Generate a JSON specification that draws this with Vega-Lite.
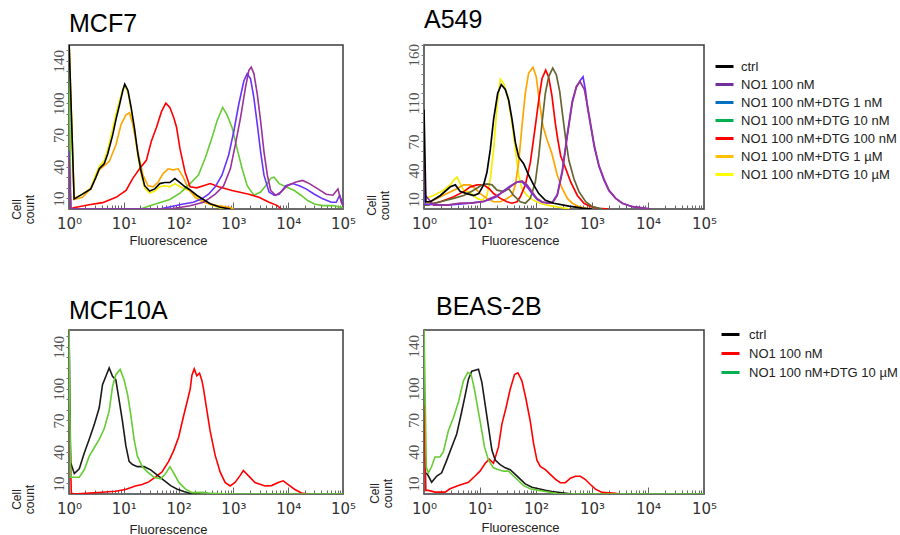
{
"$schema": "https://vega.github.io/schema/vega-lite/v6.json",
"background": "white",
"padding": {"left": 9, "top": 7, "right": 2, "bottom": 2},
"config": {"view": {"stroke": "#3c3c3c", "strokeWidth": 1.5}, "font": "Liberation Sans"},
"bounds": "flush",
"columns": 2,
"spacing": {"row": 121, "column": 81},
"resolve": {"scale": {"x": "independent", "y": "independent", "stroke": "independent", "color": "independent"}, "legend": {"color": "independent"}},
"concat": [
{
"width": 274, "height": 164,
"title": {"text": "MCF7", "anchor": "start", "frame": "group", "baseline": "alphabetic", "offset": -12, "fontSize": 25, "font": "Liberation Sans", "fontWeight": "normal", "color": "#000000"},
"data": {"values": [
{"s":"NO1 100 nM+DTG 10 µM","x":1,"y":160},{"s":"NO1 100 nM+DTG 10 µM","x":1.24,"y":10},{"s":"NO1 100 nM+DTG 10 µM","x":1.76,"y":14},{"s":"NO1 100 nM+DTG 10 µM","x":2.5,"y":20},{"s":"NO1 100 nM+DTG 10 µM","x":3.1,"y":33},{"s":"NO1 100 nM+DTG 10 µM","x":3.57,"y":40},{"s":"NO1 100 nM+DTG 10 µM","x":4.41,"y":46},{"s":"NO1 100 nM+DTG 10 µM","x":5.08,"y":56},{"s":"NO1 100 nM+DTG 10 µM","x":6.28,"y":76},{"s":"NO1 100 nM+DTG 10 µM","x":7.22,"y":90},{"s":"NO1 100 nM+DTG 10 µM","x":8.32,"y":102},{"s":"NO1 100 nM+DTG 10 µM","x":9.59,"y":113},{"s":"NO1 100 nM+DTG 10 µM","x":10.4,"y":117},{"s":"NO1 100 nM+DTG 10 µM","x":11.9,"y":110},{"s":"NO1 100 nM+DTG 10 µM","x":13.6,"y":94},{"s":"NO1 100 nM+DTG 10 µM","x":15.7,"y":72},{"s":"NO1 100 nM+DTG 10 µM","x":18.1,"y":50},{"s":"NO1 100 nM+DTG 10 µM","x":20.8,"y":32},{"s":"NO1 100 nM+DTG 10 µM","x":24,"y":20},{"s":"NO1 100 nM+DTG 10 µM","x":29.7,"y":15},{"s":"NO1 100 nM+DTG 10 µM","x":36.7,"y":17},{"s":"NO1 100 nM+DTG 10 µM","x":45.3,"y":21},{"s":"NO1 100 nM+DTG 10 µM","x":56,"y":22},{"s":"NO1 100 nM+DTG 10 µM","x":69.2,"y":21},{"s":"NO1 100 nM+DTG 10 µM","x":85.6,"y":24},{"s":"NO1 100 nM+DTG 10 µM","x":106,"y":21},{"s":"NO1 100 nM+DTG 10 µM","x":131,"y":19},{"s":"NO1 100 nM+DTG 10 µM","x":162,"y":17},{"s":"NO1 100 nM+DTG 10 µM","x":214,"y":12},{"s":"NO1 100 nM+DTG 10 µM","x":284,"y":8},{"s":"NO1 100 nM+DTG 10 µM","x":377,"y":4},{"s":"NO1 100 nM+DTG 10 µM","x":577,"y":1},{"s":"NO1 100 nM+DTG 10 µM","x":881,"y":0},
{"s":"NO1 100 nM+DTG 1 µM","x":1,"y":160},{"s":"NO1 100 nM+DTG 1 µM","x":1.24,"y":9},{"s":"NO1 100 nM+DTG 1 µM","x":1.76,"y":11},{"s":"NO1 100 nM+DTG 1 µM","x":2.5,"y":19},{"s":"NO1 100 nM+DTG 1 µM","x":3.57,"y":37},{"s":"NO1 100 nM+DTG 1 µM","x":5.45,"y":45},{"s":"NO1 100 nM+DTG 1 µM","x":7.22,"y":61},{"s":"NO1 100 nM+DTG 1 µM","x":8.93,"y":80},{"s":"NO1 100 nM+DTG 1 µM","x":11,"y":89},{"s":"NO1 100 nM+DTG 1 µM","x":12.7,"y":91},{"s":"NO1 100 nM+DTG 1 µM","x":14.6,"y":80},{"s":"NO1 100 nM+DTG 1 µM","x":18.1,"y":54},{"s":"NO1 100 nM+DTG 1 µM","x":22.4,"y":32},{"s":"NO1 100 nM+DTG 1 µM","x":27.7,"y":22},{"s":"NO1 100 nM+DTG 1 µM","x":34.2,"y":21},{"s":"NO1 100 nM+DTG 1 µM","x":42.3,"y":25.5},{"s":"NO1 100 nM+DTG 1 µM","x":52.2,"y":33.5},{"s":"NO1 100 nM+DTG 1 µM","x":64.5,"y":38},{"s":"NO1 100 nM+DTG 1 µM","x":79.8,"y":37},{"s":"NO1 100 nM+DTG 1 µM","x":98.6,"y":38},{"s":"NO1 100 nM+DTG 1 µM","x":122,"y":30},{"s":"NO1 100 nM+DTG 1 µM","x":151,"y":19},{"s":"NO1 100 nM+DTG 1 µM","x":200,"y":11},{"s":"NO1 100 nM+DTG 1 µM","x":284,"y":6.4},{"s":"NO1 100 nM+DTG 1 µM","x":500,"y":3.2},{"s":"NO1 100 nM+DTG 1 µM","x":881,"y":1.3},{"s":"NO1 100 nM+DTG 1 µM","x":1014,"y":0},
{"s":"NO1 100 nM+DTG 10 nM","x":1,"y":160},{"s":"NO1 100 nM+DTG 10 nM","x":1.08,"y":0},{"s":"NO1 100 nM+DTG 10 nM","x":20,"y":0},{"s":"NO1 100 nM+DTG 10 nM","x":34.2,"y":4},{"s":"NO1 100 nM+DTG 10 nM","x":69.2,"y":9},{"s":"NO1 100 nM+DTG 10 nM","x":106,"y":15},{"s":"NO1 100 nM+DTG 10 nM","x":162,"y":24},{"s":"NO1 100 nM+DTG 10 nM","x":230,"y":32},{"s":"NO1 100 nM+DTG 10 nM","x":305,"y":48},{"s":"NO1 100 nM+DTG 10 nM","x":405,"y":67},{"s":"NO1 100 nM+DTG 10 nM","x":500,"y":83},{"s":"NO1 100 nM+DTG 10 nM","x":637,"y":96},{"s":"NO1 100 nM+DTG 10 nM","x":764,"y":89},{"s":"NO1 100 nM+DTG 10 nM","x":945,"y":77},{"s":"NO1 100 nM+DTG 10 nM","x":1167,"y":57},{"s":"NO1 100 nM+DTG 10 nM","x":1444,"y":38},{"s":"NO1 100 nM+DTG 10 nM","x":1786,"y":22},{"s":"NO1 100 nM+DTG 10 nM","x":2366,"y":13},{"s":"NO1 100 nM+DTG 10 nM","x":3141,"y":16},{"s":"NO1 100 nM+DTG 10 nM","x":3880,"y":22},{"s":"NO1 100 nM+DTG 10 nM","x":4797,"y":29},{"s":"NO1 100 nM+DTG 10 nM","x":5525,"y":30},{"s":"NO1 100 nM+DTG 10 nM","x":6830,"y":24},{"s":"NO1 100 nM+DTG 10 nM","x":9060,"y":21},{"s":"NO1 100 nM+DTG 10 nM","x":12900,"y":17.5},{"s":"NO1 100 nM+DTG 10 nM","x":17110,"y":13},{"s":"NO1 100 nM+DTG 10 nM","x":22700,"y":8},{"s":"NO1 100 nM+DTG 10 nM","x":30100,"y":4.8},{"s":"NO1 100 nM+DTG 10 nM","x":42850,"y":3.2},{"s":"NO1 100 nM+DTG 10 nM","x":65450,"y":3.2},{"s":"NO1 100 nM+DTG 10 nM","x":93200,"y":1.6},{"s":"NO1 100 nM+DTG 10 nM","x":100000,"y":1},
{"s":"NO1 100 nM+DTG 100 nM","x":1.15,"y":1},{"s":"NO1 100 nM+DTG 100 nM","x":2.33,"y":4},{"s":"NO1 100 nM+DTG 100 nM","x":4.1,"y":6},{"s":"NO1 100 nM+DTG 100 nM","x":7.22,"y":11},{"s":"NO1 100 nM+DTG 100 nM","x":11,"y":17.5},{"s":"NO1 100 nM+DTG 100 nM","x":14.6,"y":29},{"s":"NO1 100 nM+DTG 100 nM","x":19.4,"y":38},{"s":"NO1 100 nM+DTG 100 nM","x":25.8,"y":46},{"s":"NO1 100 nM+DTG 100 nM","x":31.8,"y":64},{"s":"NO1 100 nM+DTG 100 nM","x":39.4,"y":77},{"s":"NO1 100 nM+DTG 100 nM","x":48.7,"y":92},{"s":"NO1 100 nM+DTG 100 nM","x":58.5,"y":100},{"s":"NO1 100 nM+DTG 100 nM","x":69.2,"y":96},{"s":"NO1 100 nM+DTG 100 nM","x":82,"y":86},{"s":"NO1 100 nM+DTG 100 nM","x":91.9,"y":77},{"s":"NO1 100 nM+DTG 100 nM","x":106,"y":57},{"s":"NO1 100 nM+DTG 100 nM","x":131,"y":35},{"s":"NO1 100 nM+DTG 100 nM","x":162,"y":21},{"s":"NO1 100 nM+DTG 100 nM","x":214,"y":20},{"s":"NO1 100 nM+DTG 100 nM","x":284,"y":22},{"s":"NO1 100 nM+DTG 100 nM","x":377,"y":24},{"s":"NO1 100 nM+DTG 100 nM","x":537,"y":21},{"s":"NO1 100 nM+DTG 100 nM","x":945,"y":17.5},{"s":"NO1 100 nM+DTG 100 nM","x":1915,"y":14},{"s":"NO1 100 nM+DTG 100 nM","x":2924,"y":11},{"s":"NO1 100 nM+DTG 100 nM","x":4470,"y":6.4},{"s":"NO1 100 nM+DTG 100 nM","x":6364,"y":3.2},{"s":"NO1 100 nM+DTG 100 nM","x":7500,"y":0},
{"s":"NO1 100 nM+DTG 1 nM","x":1,"y":55},{"s":"NO1 100 nM+DTG 1 nM","x":1.08,"y":0},{"s":"NO1 100 nM+DTG 1 nM","x":45.3,"y":0},{"s":"NO1 100 nM+DTG 1 nM","x":122,"y":4.8},{"s":"NO1 100 nM+DTG 1 nM","x":186,"y":6.4},{"s":"NO1 100 nM+DTG 1 nM","x":265,"y":9.6},{"s":"NO1 100 nM+DTG 1 nM","x":352,"y":14},{"s":"NO1 100 nM+DTG 1 nM","x":466,"y":21},{"s":"NO1 100 nM+DTG 1 nM","x":618,"y":32},{"s":"NO1 100 nM+DTG 1 nM","x":820,"y":51},{"s":"NO1 100 nM+DTG 1 nM","x":1014,"y":73},{"s":"NO1 100 nM+DTG 1 nM","x":1253,"y":99},{"s":"NO1 100 nM+DTG 1 nM","x":1550,"y":121},{"s":"NO1 100 nM+DTG 1 nM","x":1786,"y":128},{"s":"NO1 100 nM+DTG 1 nM","x":2056,"y":123},{"s":"NO1 100 nM+DTG 1 nM","x":2366,"y":105},{"s":"NO1 100 nM+DTG 1 nM","x":2727,"y":80},{"s":"NO1 100 nM+DTG 1 nM","x":3141,"y":54},{"s":"NO1 100 nM+DTG 1 nM","x":3615,"y":32},{"s":"NO1 100 nM+DTG 1 nM","x":4470,"y":16},{"s":"NO1 100 nM+DTG 1 nM","x":5525,"y":13},{"s":"NO1 100 nM+DTG 1 nM","x":6830,"y":14},{"s":"NO1 100 nM+DTG 1 nM","x":9060,"y":22},{"s":"NO1 100 nM+DTG 1 nM","x":12020,"y":24},{"s":"NO1 100 nM+DTG 1 nM","x":15920,"y":22},{"s":"NO1 100 nM+DTG 1 nM","x":21130,"y":19},{"s":"NO1 100 nM+DTG 1 nM","x":30100,"y":14},{"s":"NO1 100 nM+DTG 1 nM","x":42850,"y":9.6},{"s":"NO1 100 nM+DTG 1 nM","x":61000,"y":6.4},{"s":"NO1 100 nM+DTG 1 nM","x":75300,"y":6.4},{"s":"NO1 100 nM+DTG 1 nM","x":86900,"y":13},{"s":"NO1 100 nM+DTG 1 nM","x":100000,"y":4},
{"s":"NO1 100 nM","x":1,"y":50},{"s":"NO1 100 nM","x":1.08,"y":0},{"s":"NO1 100 nM","x":69.2,"y":0},{"s":"NO1 100 nM","x":162,"y":3},{"s":"NO1 100 nM","x":284,"y":6.4},{"s":"NO1 100 nM","x":352,"y":9.6},{"s":"NO1 100 nM","x":466,"y":14},{"s":"NO1 100 nM","x":664,"y":22},{"s":"NO1 100 nM","x":881,"y":38},{"s":"NO1 100 nM","x":1088,"y":61},{"s":"NO1 100 nM","x":1346,"y":86},{"s":"NO1 100 nM","x":1663,"y":115},{"s":"NO1 100 nM","x":1915,"y":131},{"s":"NO1 100 nM","x":2115,"y":134},{"s":"NO1 100 nM","x":2366,"y":128},{"s":"NO1 100 nM","x":2727,"y":108.5},{"s":"NO1 100 nM","x":3141,"y":83},{"s":"NO1 100 nM","x":3615,"y":54},{"s":"NO1 100 nM","x":4165,"y":32},{"s":"NO1 100 nM","x":4797,"y":17.5},{"s":"NO1 100 nM","x":5929,"y":13},{"s":"NO1 100 nM","x":7330,"y":16},{"s":"NO1 100 nM","x":9723,"y":22},{"s":"NO1 100 nM","x":13830,"y":25.5},{"s":"NO1 100 nM","x":18360,"y":27},{"s":"NO1 100 nM","x":24360,"y":24},{"s":"NO1 100 nM","x":34670,"y":19},{"s":"NO1 100 nM","x":49320,"y":14},{"s":"NO1 100 nM","x":65450,"y":13},{"s":"NO1 100 nM","x":80900,"y":19},{"s":"NO1 100 nM","x":93200,"y":6.4},{"s":"NO1 100 nM","x":100000,"y":3},
{"s":"ctrl","x":1,"y":160},{"s":"ctrl","x":1.24,"y":9.6},{"s":"ctrl","x":1.76,"y":14},{"s":"ctrl","x":2.5,"y":19},{"s":"ctrl","x":3.1,"y":30},{"s":"ctrl","x":3.57,"y":38},{"s":"ctrl","x":4.41,"y":43},{"s":"ctrl","x":5.08,"y":52},{"s":"ctrl","x":6.28,"y":70},{"s":"ctrl","x":7.22,"y":85},{"s":"ctrl","x":8.32,"y":98},{"s":"ctrl","x":9.59,"y":112},{"s":"ctrl","x":10.4,"y":118},{"s":"ctrl","x":11.9,"y":112},{"s":"ctrl","x":13.6,"y":96},{"s":"ctrl","x":15.7,"y":76},{"s":"ctrl","x":18.1,"y":52},{"s":"ctrl","x":20.8,"y":35},{"s":"ctrl","x":24,"y":22},{"s":"ctrl","x":29.7,"y":17},{"s":"ctrl","x":36.7,"y":19},{"s":"ctrl","x":45.3,"y":24},{"s":"ctrl","x":56,"y":25},{"s":"ctrl","x":69.2,"y":25},{"s":"ctrl","x":85.6,"y":28.7},{"s":"ctrl","x":106,"y":25},{"s":"ctrl","x":131,"y":21},{"s":"ctrl","x":162,"y":18},{"s":"ctrl","x":214,"y":13},{"s":"ctrl","x":284,"y":9},{"s":"ctrl","x":377,"y":5},{"s":"ctrl","x":577,"y":1.6},{"s":"ctrl","x":881,"y":0}
]},
"mark": {"type": "line", "clip": true, "strokeWidth": 1.6},
"encoding": {
"x": {"field": "x", "type": "quantitative", "scale": {"type": "log", "domain": [1, 100000], "nice": false},
 "axis": {"title": "Fluorescence", "values": [1,2,3,4,5,6,7,8,9,10,20,30,40,50,60,70,80,90,100,200,300,400,500,600,700,800,900,1000,2000,3000,4000,5000,6000,7000,8000,9000,10000,20000,30000,40000,50000,60000,70000,80000,90000,100000],
 "labelExpr": "abs(log(datum.value)/LN10 - round(log(datum.value)/LN10)) < 0.01 ? '10' + ['⁰','¹','²','³','⁴','⁵'][round(log(datum.value)/LN10)] : ''",
 "labelFlush": false, "labelOverlap": false, "labelFont": "DejaVu Sans", "labelFontSize": 15, "labelColor": "#333333", "labelPadding": 14,
 "tickSize": {"condition": {"test": "abs(log(datum.value)/LN10 - round(log(datum.value)/LN10)) < 0.01", "value": -7}, "value": -4},
 "tickColor": "#666666", "domain": false, "grid": false,
 "titleFont": "Liberation Sans", "titleFontSize": 13, "titleFontWeight": "normal", "titleColor": "#222222", "titleX": 99, "titleY": 31, "titleAlign": "center", "titleBaseline": "middle"}},
"y": {"field": "y", "type": "quantitative", "scale": {"domain": [0, 155], "nice": false},
 "axis": {"title": ["Cell", "count"], "values": [10,20,30,40,50,60,70,80,90,100,110,120,130,140,150],
 "labelExpr": "indexof([10,40,70,100,140], datum.value) >= 0 ? datum.label : ''",
 "labelAngle": 270, "labelAlign": "center", "labelBaseline": "bottom", "labelOverlap": false, "labelFont": "Liberation Sans Narrow", "labelFontSize": 15, "labelColor": "#555555", "labelPadding": 0,
 "tickSize": 3, "tickColor": "#777777", "domain": false, "grid": false,
 "titleAngle": 270, "titleFont": "Liberation Sans", "titleFontSize": 12, "titleFontWeight": "normal", "titleColor": "#222222", "titleX": -53, "titleY": 164, "titleAlign": "center", "titleBaseline": "middle", "titleLineHeight": 13}},
"stroke": {"field": "s", "type": "nominal", "scale": {"domain": ["ctrl","NO1 100 nM","NO1 100 nM+DTG 1 nM","NO1 100 nM+DTG 10 nM","NO1 100 nM+DTG 100 nM","NO1 100 nM+DTG 1 µM","NO1 100 nM+DTG 10 µM"], "range": ["#000000","#993399","#6633ff","#66cc33","#ff0000","#ffa500","#f5ee00"]}, "legend": null}
}
},
{
"width": 280, "height": 164,
"title": {"text": "A549", "anchor": "start", "frame": "group", "baseline": "alphabetic", "offset": -10, "fontSize": 25, "font": "Liberation Sans", "fontWeight": "normal", "color": "#000000"},
"data": {"values": [
{"s":"NO1 100 nM+DTG 10 µM","x":1,"y":12},{"s":"NO1 100 nM+DTG 10 µM","x":1.06,"y":11},{"s":"NO1 100 nM+DTG 10 µM","x":1.49,"y":14},{"s":"NO1 100 nM+DTG 10 µM","x":2.24,"y":19.5},{"s":"NO1 100 nM+DTG 10 µM","x":2.95,"y":25},{"s":"NO1 100 nM+DTG 10 µM","x":3.39,"y":30},{"s":"NO1 100 nM+DTG 10 µM","x":3.88,"y":33},{"s":"NO1 100 nM+DTG 10 µM","x":4.45,"y":26},{"s":"NO1 100 nM+DTG 10 µM","x":5.11,"y":19.5},{"s":"NO1 100 nM+DTG 10 µM","x":6.72,"y":17},{"s":"NO1 100 nM+DTG 10 µM","x":8.84,"y":11},{"s":"NO1 100 nM+DTG 10 µM","x":10.9,"y":9},{"s":"NO1 100 nM+DTG 10 µM","x":13.3,"y":14},{"s":"NO1 100 nM+DTG 10 µM","x":15.3,"y":31},{"s":"NO1 100 nM+DTG 10 µM","x":17.5,"y":62},{"s":"NO1 100 nM+DTG 10 µM","x":20.1,"y":106},{"s":"NO1 100 nM+DTG 10 µM","x":23.1,"y":134.5},{"s":"NO1 100 nM+DTG 10 µM","x":26.5,"y":130},{"s":"NO1 100 nM+DTG 10 µM","x":31.2,"y":117},{"s":"NO1 100 nM+DTG 10 µM","x":37.3,"y":89},{"s":"NO1 100 nM+DTG 10 µM","x":42.8,"y":62},{"s":"NO1 100 nM+DTG 10 µM","x":49,"y":35},{"s":"NO1 100 nM+DTG 10 µM","x":56.2,"y":21},{"s":"NO1 100 nM+DTG 10 µM","x":69.1,"y":14},{"s":"NO1 100 nM+DTG 10 µM","x":90.8,"y":9},{"s":"NO1 100 nM+DTG 10 µM","x":119,"y":6},{"s":"NO1 100 nM+DTG 10 µM","x":157,"y":4},{"s":"NO1 100 nM+DTG 10 µM","x":250,"y":2},{"s":"NO1 100 nM+DTG 10 µM","x":400,"y":0},
{"s":"NO1 100 nM+DTG 1 µM","x":1,"y":6},{"s":"NO1 100 nM+DTG 1 µM","x":1.13,"y":6},{"s":"NO1 100 nM+DTG 1 µM","x":1.71,"y":11},{"s":"NO1 100 nM+DTG 1 µM","x":2.57,"y":16},{"s":"NO1 100 nM+DTG 1 µM","x":3.88,"y":21},{"s":"NO1 100 nM+DTG 1 µM","x":5.11,"y":25},{"s":"NO1 100 nM+DTG 1 µM","x":6.72,"y":25},{"s":"NO1 100 nM+DTG 1 µM","x":8.26,"y":21},{"s":"NO1 100 nM+DTG 1 µM","x":10.1,"y":16},{"s":"NO1 100 nM+DTG 1 µM","x":13.3,"y":11},{"s":"NO1 100 nM+DTG 1 µM","x":17.5,"y":7.5},{"s":"NO1 100 nM+DTG 1 µM","x":23.1,"y":7.5},{"s":"NO1 100 nM+DTG 1 µM","x":30.3,"y":11},{"s":"NO1 100 nM+DTG 1 µM","x":37.3,"y":14},{"s":"NO1 100 nM+DTG 1 µM","x":42.8,"y":25},{"s":"NO1 100 nM+DTG 1 µM","x":49,"y":48},{"s":"NO1 100 nM+DTG 1 µM","x":56.2,"y":86},{"s":"NO1 100 nM+DTG 1 µM","x":64.5,"y":120},{"s":"NO1 100 nM+DTG 1 µM","x":73.9,"y":141},{"s":"NO1 100 nM+DTG 1 µM","x":88.4,"y":147},{"s":"NO1 100 nM+DTG 1 µM","x":101,"y":137},{"s":"NO1 100 nM+DTG 1 µM","x":116,"y":110},{"s":"NO1 100 nM+DTG 1 µM","x":133,"y":86},{"s":"NO1 100 nM+DTG 1 µM","x":157,"y":72},{"s":"NO1 100 nM+DTG 1 µM","x":193,"y":57},{"s":"NO1 100 nM+DTG 1 µM","x":240,"y":35},{"s":"NO1 100 nM+DTG 1 µM","x":295,"y":21},{"s":"NO1 100 nM+DTG 1 µM","x":363,"y":11},{"s":"NO1 100 nM+DTG 1 µM","x":445,"y":6},{"s":"NO1 100 nM+DTG 1 µM","x":586,"y":2.4},{"s":"NO1 100 nM+DTG 1 µM","x":771,"y":0.7},{"s":"NO1 100 nM+DTG 1 µM","x":1000,"y":0},
{"s":"NO1 100 nM+DTG 100 nM","x":1,"y":4},{"s":"NO1 100 nM+DTG 100 nM","x":1.13,"y":4},{"s":"NO1 100 nM+DTG 100 nM","x":1.96,"y":7.5},{"s":"NO1 100 nM+DTG 100 nM","x":3.39,"y":12.6},{"s":"NO1 100 nM+DTG 100 nM","x":5.11,"y":18},{"s":"NO1 100 nM+DTG 100 nM","x":6.72,"y":23},{"s":"NO1 100 nM+DTG 100 nM","x":8.84,"y":25},{"s":"NO1 100 nM+DTG 100 nM","x":11.6,"y":25},{"s":"NO1 100 nM+DTG 100 nM","x":14.6,"y":21},{"s":"NO1 100 nM+DTG 100 nM","x":17.5,"y":16},{"s":"NO1 100 nM+DTG 100 nM","x":23.1,"y":11},{"s":"NO1 100 nM+DTG 100 nM","x":30.3,"y":7.5},{"s":"NO1 100 nM+DTG 100 nM","x":37.3,"y":6},{"s":"NO1 100 nM+DTG 100 nM","x":45.8,"y":7.5},{"s":"NO1 100 nM+DTG 100 nM","x":52.5,"y":12.6},{"s":"NO1 100 nM+DTG 100 nM","x":64.5,"y":25},{"s":"NO1 100 nM+DTG 100 nM","x":79.2,"y":48},{"s":"NO1 100 nM+DTG 100 nM","x":97.3,"y":86},{"s":"NO1 100 nM+DTG 100 nM","x":112,"y":113},{"s":"NO1 100 nM+DTG 100 nM","x":128,"y":135},{"s":"NO1 100 nM+DTG 100 nM","x":149,"y":144},{"s":"NO1 100 nM+DTG 100 nM","x":168,"y":137},{"s":"NO1 100 nM+DTG 100 nM","x":193,"y":117},{"s":"NO1 100 nM+DTG 100 nM","x":221,"y":89},{"s":"NO1 100 nM+DTG 100 nM","x":245,"y":72},{"s":"NO1 100 nM+DTG 100 nM","x":276,"y":55},{"s":"NO1 100 nM+DTG 100 nM","x":339,"y":42},{"s":"NO1 100 nM+DTG 100 nM","x":416,"y":28},{"s":"NO1 100 nM+DTG 100 nM","x":547,"y":14},{"s":"NO1 100 nM+DTG 100 nM","x":719,"y":6},{"s":"NO1 100 nM+DTG 100 nM","x":947,"y":2.4},{"s":"NO1 100 nM+DTG 100 nM","x":1334,"y":0.7},{"s":"NO1 100 nM+DTG 100 nM","x":2000,"y":0},
{"s":"NO1 100 nM+DTG 10 nM","x":1,"y":4},{"s":"NO1 100 nM+DTG 10 nM","x":1.13,"y":4},{"s":"NO1 100 nM+DTG 10 nM","x":1.96,"y":7.5},{"s":"NO1 100 nM+DTG 10 nM","x":3.39,"y":11},{"s":"NO1 100 nM+DTG 10 nM","x":5.11,"y":14},{"s":"NO1 100 nM+DTG 10 nM","x":7.71,"y":19.5},{"s":"NO1 100 nM+DTG 10 nM","x":10.9,"y":25},{"s":"NO1 100 nM+DTG 10 nM","x":13.3,"y":26},{"s":"NO1 100 nM+DTG 10 nM","x":16.4,"y":25},{"s":"NO1 100 nM+DTG 10 nM","x":20.1,"y":19.5},{"s":"NO1 100 nM+DTG 10 nM","x":26.5,"y":18},{"s":"NO1 100 nM+DTG 10 nM","x":32.5,"y":21},{"s":"NO1 100 nM+DTG 10 nM","x":39.9,"y":14},{"s":"NO1 100 nM+DTG 10 nM","x":52.5,"y":7.5},{"s":"NO1 100 nM+DTG 10 nM","x":64.5,"y":6},{"s":"NO1 100 nM+DTG 10 nM","x":79.2,"y":11},{"s":"NO1 100 nM+DTG 10 nM","x":97.3,"y":28},{"s":"NO1 100 nM+DTG 10 nM","x":112,"y":55},{"s":"NO1 100 nM+DTG 10 nM","x":128,"y":89},{"s":"NO1 100 nM+DTG 10 nM","x":147,"y":120},{"s":"NO1 100 nM+DTG 10 nM","x":168,"y":137},{"s":"NO1 100 nM+DTG 10 nM","x":199,"y":146},{"s":"NO1 100 nM+DTG 10 nM","x":231,"y":139},{"s":"NO1 100 nM+DTG 10 nM","x":265,"y":122},{"s":"NO1 100 nM+DTG 10 nM","x":295,"y":100},{"s":"NO1 100 nM+DTG 10 nM","x":340,"y":72},{"s":"NO1 100 nM+DTG 10 nM","x":388,"y":50},{"s":"NO1 100 nM+DTG 10 nM","x":477,"y":31},{"s":"NO1 100 nM+DTG 10 nM","x":586,"y":18},{"s":"NO1 100 nM+DTG 10 nM","x":771,"y":7.5},{"s":"NO1 100 nM+DTG 10 nM","x":1014,"y":2.4},{"s":"NO1 100 nM+DTG 10 nM","x":1530,"y":0},
{"s":"NO1 100 nM+DTG 1 nM","x":1,"y":20},{"s":"NO1 100 nM+DTG 1 nM","x":1.06,"y":5},{"s":"NO1 100 nM+DTG 1 nM","x":2.57,"y":4},{"s":"NO1 100 nM+DTG 1 nM","x":6.72,"y":6},{"s":"NO1 100 nM+DTG 1 nM","x":11.6,"y":8},{"s":"NO1 100 nM+DTG 1 nM","x":15.3,"y":10},{"s":"NO1 100 nM+DTG 1 nM","x":20.1,"y":13},{"s":"NO1 100 nM+DTG 1 nM","x":26.5,"y":19},{"s":"NO1 100 nM+DTG 1 nM","x":34.8,"y":24},{"s":"NO1 100 nM+DTG 1 nM","x":45.8,"y":28},{"s":"NO1 100 nM+DTG 1 nM","x":56.2,"y":28},{"s":"NO1 100 nM+DTG 1 nM","x":69.1,"y":23},{"s":"NO1 100 nM+DTG 1 nM","x":84.8,"y":16},{"s":"NO1 100 nM+DTG 1 nM","x":104,"y":10},{"s":"NO1 100 nM+DTG 1 nM","x":128,"y":7},{"s":"NO1 100 nM+DTG 1 nM","x":168,"y":6},{"s":"NO1 100 nM+DTG 1 nM","x":196,"y":7},{"s":"NO1 100 nM+DTG 1 nM","x":240,"y":15},{"s":"NO1 100 nM+DTG 1 nM","x":295,"y":40},{"s":"NO1 100 nM+DTG 1 nM","x":363,"y":78},{"s":"NO1 100 nM+DTG 1 nM","x":445,"y":112},{"s":"NO1 100 nM+DTG 1 nM","x":525,"y":126},{"s":"NO1 100 nM+DTG 1 nM","x":611,"y":133},{"s":"NO1 100 nM+DTG 1 nM","x":691,"y":137},{"s":"NO1 100 nM+DTG 1 nM","x":760,"y":124},{"s":"NO1 100 nM+DTG 1 nM","x":837,"y":104},{"s":"NO1 100 nM+DTG 1 nM","x":960,"y":84},{"s":"NO1 100 nM+DTG 1 nM","x":1101,"y":64},{"s":"NO1 100 nM+DTG 1 nM","x":1334,"y":44},{"s":"NO1 100 nM+DTG 1 nM","x":1638,"y":30},{"s":"NO1 100 nM+DTG 1 nM","x":2012,"y":19},{"s":"NO1 100 nM+DTG 1 nM","x":2648,"y":11},{"s":"NO1 100 nM+DTG 1 nM","x":3481,"y":6},{"s":"NO1 100 nM+DTG 1 nM","x":5250,"y":2.4},{"s":"NO1 100 nM+DTG 1 nM","x":9080,"y":0.7},{"s":"NO1 100 nM+DTG 1 nM","x":11000,"y":0},
{"s":"NO1 100 nM","x":1,"y":48},{"s":"NO1 100 nM","x":1.06,"y":14},{"s":"NO1 100 nM","x":1.49,"y":4},{"s":"NO1 100 nM","x":2.57,"y":4},{"s":"NO1 100 nM","x":4.45,"y":6},{"s":"NO1 100 nM","x":6.72,"y":6},{"s":"NO1 100 nM","x":11.6,"y":7.5},{"s":"NO1 100 nM","x":15.3,"y":11},{"s":"NO1 100 nM","x":20.1,"y":14},{"s":"NO1 100 nM","x":26.5,"y":18},{"s":"NO1 100 nM","x":34.8,"y":23},{"s":"NO1 100 nM","x":45.8,"y":28},{"s":"NO1 100 nM","x":56.2,"y":29},{"s":"NO1 100 nM","x":69.1,"y":25},{"s":"NO1 100 nM","x":84.8,"y":18},{"s":"NO1 100 nM","x":104,"y":11},{"s":"NO1 100 nM","x":128,"y":7.5},{"s":"NO1 100 nM","x":168,"y":6},{"s":"NO1 100 nM","x":196,"y":6},{"s":"NO1 100 nM","x":240,"y":14},{"s":"NO1 100 nM","x":295,"y":38},{"s":"NO1 100 nM","x":363,"y":76},{"s":"NO1 100 nM","x":445,"y":110},{"s":"NO1 100 nM","x":525,"y":127},{"s":"NO1 100 nM","x":611,"y":132},{"s":"NO1 100 nM","x":729,"y":124},{"s":"NO1 100 nM","x":837,"y":106},{"s":"NO1 100 nM","x":960,"y":86},{"s":"NO1 100 nM","x":1101,"y":65.5},{"s":"NO1 100 nM","x":1334,"y":45},{"s":"NO1 100 nM","x":1638,"y":31},{"s":"NO1 100 nM","x":2012,"y":19.5},{"s":"NO1 100 nM","x":2648,"y":11},{"s":"NO1 100 nM","x":3481,"y":6},{"s":"NO1 100 nM","x":5250,"y":2.4},{"s":"NO1 100 nM","x":9080,"y":0.7},{"s":"NO1 100 nM","x":11000,"y":0},
{"s":"ctrl","x":1,"y":103},{"s":"ctrl","x":1.08,"y":7.5},{"s":"ctrl","x":1.3,"y":7.5},{"s":"ctrl","x":1.96,"y":14},{"s":"ctrl","x":2.95,"y":23},{"s":"ctrl","x":3.63,"y":25},{"s":"ctrl","x":4.45,"y":18},{"s":"ctrl","x":5.86,"y":16},{"s":"ctrl","x":7.71,"y":14},{"s":"ctrl","x":9.47,"y":16},{"s":"ctrl","x":11.6,"y":25},{"s":"ctrl","x":13.3,"y":38},{"s":"ctrl","x":15.3,"y":62},{"s":"ctrl","x":17.5,"y":93},{"s":"ctrl","x":20.7,"y":120},{"s":"ctrl","x":24,"y":129},{"s":"ctrl","x":28.3,"y":124},{"s":"ctrl","x":32.5,"y":113},{"s":"ctrl","x":37.3,"y":93},{"s":"ctrl","x":42.8,"y":69},{"s":"ctrl","x":49,"y":54},{"s":"ctrl","x":60.2,"y":47},{"s":"ctrl","x":73.9,"y":35},{"s":"ctrl","x":90.8,"y":25},{"s":"ctrl","x":112,"y":16},{"s":"ctrl","x":147,"y":9},{"s":"ctrl","x":207,"y":6},{"s":"ctrl","x":388,"y":3},{"s":"ctrl","x":672,"y":1},{"s":"ctrl","x":1000,"y":0}
]},
"encoding": {
"x": {"field": "x", "type": "quantitative", "scale": {"type": "log", "domain": [1, 100000], "nice": false},
 "axis": {"title": "Fluorescence", "values": [1,2,3,4,5,6,7,8,9,10,20,30,40,50,60,70,80,90,100,200,300,400,500,600,700,800,900,1000,2000,3000,4000,5000,6000,7000,8000,9000,10000,20000,30000,40000,50000,60000,70000,80000,90000,100000],
 "labelExpr": "abs(log(datum.value)/LN10 - round(log(datum.value)/LN10)) < 0.01 ? '10' + ['⁰','¹','²','³','⁴','⁵'][round(log(datum.value)/LN10)] : ''",
 "labelFlush": false, "labelOverlap": false, "labelFont": "DejaVu Sans", "labelFontSize": 15, "labelColor": "#333333", "labelPadding": 14,
 "tickSize": {"condition": {"test": "abs(log(datum.value)/LN10 - round(log(datum.value)/LN10)) < 0.01", "value": -7}, "value": -4},
 "tickColor": "#666666", "domain": false, "grid": false,
 "titleFont": "Liberation Sans", "titleFontSize": 13, "titleFontWeight": "normal", "titleColor": "#222222", "titleX": 96, "titleY": 31, "titleAlign": "center", "titleBaseline": "middle"}},
"y": {"field": "y", "type": "quantitative", "scale": {"domain": [0, 170], "nice": false},
 "axis": {"title": ["Cell", "count"], "values": [10,20,30,40,50,60,70,80,90,100,110,120,130,140,150,160,170],
 "labelExpr": "indexof([10,40,70,110,160], datum.value) >= 0 ? datum.label : ''",
 "labelAngle": 270, "labelAlign": "center", "labelBaseline": "bottom", "labelOverlap": false, "labelFont": "Liberation Sans Narrow", "labelFontSize": 15, "labelColor": "#555555", "labelPadding": 0,
 "tickSize": 3, "tickColor": "#777777", "domain": false, "grid": false,
 "titleAngle": 270, "titleFont": "Liberation Sans", "titleFontSize": 12, "titleFontWeight": "normal", "titleColor": "#222222", "titleX": -53, "titleY": 160, "titleAlign": "center", "titleBaseline": "middle", "titleLineHeight": 13}}
},
"layer": [
{
"mark": {"type": "line", "clip": true, "strokeWidth": 1.7},
"encoding": {
"stroke": {"field": "s", "type": "nominal", "scale": {"domain": ["NO1 100 nM+DTG 10 µM","NO1 100 nM+DTG 1 µM","NO1 100 nM+DTG 100 nM","NO1 100 nM+DTG 10 nM","NO1 100 nM+DTG 1 nM","NO1 100 nM","ctrl"], "range": ["#f5ee00","#ffa500","#ff0000","#666633","#6633ff","#993399","#000000"]}, "legend": null}
}
},
{
"transform": [{"filter": "false"}],
"mark": {"type": "line"},
"encoding": {
"color": {"field": "s", "type": "nominal", "scale": {"domain": ["ctrl","NO1 100 nM","NO1 100 nM+DTG 1 nM","NO1 100 nM+DTG 10 nM","NO1 100 nM+DTG 100 nM","NO1 100 nM+DTG 1 µM","NO1 100 nM+DTG 10 µM"], "range": ["#000000","#7030a0","#0070c0","#00b050","#ff0000","#ffc000","#ffff00"]},
 "legend": {"orient": "none", "legendX": 290, "legendY": 11, "title": null, "symbolType": "stroke", "symbolSize": 324, "symbolStrokeWidth": 3, "labelFont": "Liberation Sans", "labelFontSize": 13, "labelLimit": 240, "labelColor": "#222222", "labelOffset": 6, "rowPadding": 0}}
}
}
]
},
{
"width": 274, "height": 164,
"title": {"text": "MCF10A", "anchor": "start", "frame": "group", "baseline": "alphabetic", "offset": -14, "fontSize": 25, "font": "Liberation Sans", "fontWeight": "normal", "color": "#000000"},
"data": {"values": [
{"s":"NO1 100 nM","x":1,"y":100},{"s":"NO1 100 nM","x":1.1,"y":1},{"s":"NO1 100 nM","x":1.23,"y":0},{"s":"NO1 100 nM","x":4.04,"y":1.7},{"s":"NO1 100 nM","x":7.05,"y":2.6},{"s":"NO1 100 nM","x":10.7,"y":4.3},{"s":"NO1 100 nM","x":16.3,"y":7.6},{"s":"NO1 100 nM","x":21.5,"y":9},{"s":"NO1 100 nM","x":28.5,"y":11.5},{"s":"NO1 100 nM","x":37.6,"y":16},{"s":"NO1 100 nM","x":49.8,"y":21},{"s":"NO1 100 nM","x":65.8,"y":31},{"s":"NO1 100 nM","x":81.1,"y":41},{"s":"NO1 100 nM","x":100,"y":54},{"s":"NO1 100 nM","x":123,"y":74},{"s":"NO1 100 nM","x":142,"y":87},{"s":"NO1 100 nM","x":163,"y":100},{"s":"NO1 100 nM","x":175,"y":113},{"s":"NO1 100 nM","x":193,"y":119},{"s":"NO1 100 nM","x":215,"y":112.5},{"s":"NO1 100 nM","x":241,"y":115},{"s":"NO1 100 nM","x":266,"y":108},{"s":"NO1 100 nM","x":285,"y":100},{"s":"NO1 100 nM","x":327,"y":80},{"s":"NO1 100 nM","x":376,"y":60},{"s":"NO1 100 nM","x":464,"y":37},{"s":"NO1 100 nM","x":572,"y":21},{"s":"NO1 100 nM","x":705,"y":11},{"s":"NO1 100 nM","x":869,"y":7.6},{"s":"NO1 100 nM","x":1072,"y":11},{"s":"NO1 100 nM","x":1322,"y":17.5},{"s":"NO1 100 nM","x":1520,"y":22.4},{"s":"NO1 100 nM","x":1874,"y":17.5},{"s":"NO1 100 nM","x":2477,"y":11},{"s":"NO1 100 nM","x":3764,"y":7.6},{"s":"NO1 100 nM","x":4977,"y":8},{"s":"NO1 100 nM","x":6579,"y":11},{"s":"NO1 100 nM","x":8111,"y":12.5},{"s":"NO1 100 nM","x":10000,"y":9},{"s":"NO1 100 nM","x":13220,"y":4.3},{"s":"NO1 100 nM","x":17480,"y":1},{"s":"NO1 100 nM","x":23100,"y":0},
{"s":"ctrl","x":1,"y":160},{"s":"ctrl","x":1.07,"y":30},{"s":"ctrl","x":1.25,"y":19.5},{"s":"ctrl","x":1.54,"y":24},{"s":"ctrl","x":1.9,"y":39},{"s":"ctrl","x":2.34,"y":52},{"s":"ctrl","x":2.89,"y":66},{"s":"ctrl","x":3.56,"y":82},{"s":"ctrl","x":4.09,"y":104},{"s":"ctrl","x":4.71,"y":112},{"s":"ctrl","x":5.41,"y":120},{"s":"ctrl","x":6.22,"y":112},{"s":"ctrl","x":7.16,"y":108.6},{"s":"ctrl","x":8.23,"y":89},{"s":"ctrl","x":9.46,"y":69},{"s":"ctrl","x":10.9,"y":46},{"s":"ctrl","x":12.5,"y":31},{"s":"ctrl","x":14.4,"y":28},{"s":"ctrl","x":17.7,"y":26},{"s":"ctrl","x":23.4,"y":26},{"s":"ctrl","x":31,"y":23},{"s":"ctrl","x":40.9,"y":18},{"s":"ctrl","x":54.1,"y":13},{"s":"ctrl","x":71.6,"y":8},{"s":"ctrl","x":94.6,"y":4.6},{"s":"ctrl","x":125,"y":2.3},{"s":"ctrl","x":165,"y":0.5},{"s":"ctrl","x":250,"y":0},
{"s":"NO1 100 nM+DTG 10 µM","x":1,"y":160},{"s":"NO1 100 nM+DTG 10 µM","x":1.07,"y":16},{"s":"NO1 100 nM+DTG 10 µM","x":1.25,"y":16},{"s":"NO1 100 nM+DTG 10 µM","x":1.54,"y":16},{"s":"NO1 100 nM+DTG 10 µM","x":1.9,"y":23},{"s":"NO1 100 nM+DTG 10 µM","x":2.34,"y":36},{"s":"NO1 100 nM+DTG 10 µM","x":2.89,"y":44},{"s":"NO1 100 nM+DTG 10 µM","x":3.56,"y":52},{"s":"NO1 100 nM+DTG 10 µM","x":4.39,"y":62},{"s":"NO1 100 nM+DTG 10 µM","x":5.41,"y":79},{"s":"NO1 100 nM+DTG 10 µM","x":6.22,"y":102},{"s":"NO1 100 nM+DTG 10 µM","x":7.16,"y":113.5},{"s":"NO1 100 nM+DTG 10 µM","x":8.58,"y":118.5},{"s":"NO1 100 nM+DTG 10 µM","x":10.1,"y":108.6},{"s":"NO1 100 nM+DTG 10 µM","x":11.7,"y":95},{"s":"NO1 100 nM+DTG 10 µM","x":13.4,"y":75.6},{"s":"NO1 100 nM+DTG 10 µM","x":15.4,"y":52},{"s":"NO1 100 nM+DTG 10 µM","x":17.7,"y":36},{"s":"NO1 100 nM+DTG 10 µM","x":21.8,"y":26},{"s":"NO1 100 nM+DTG 10 µM","x":26.9,"y":21},{"s":"NO1 100 nM+DTG 10 µM","x":35.6,"y":16},{"s":"NO1 100 nM+DTG 10 µM","x":47.1,"y":14.5},{"s":"NO1 100 nM+DTG 10 µM","x":58,"y":19.5},{"s":"NO1 100 nM+DTG 10 µM","x":69.5,"y":26},{"s":"NO1 100 nM+DTG 10 µM","x":82.3,"y":19.5},{"s":"NO1 100 nM+DTG 10 µM","x":101,"y":11},{"s":"NO1 100 nM+DTG 10 µM","x":134,"y":4.6},{"s":"NO1 100 nM+DTG 10 µM","x":177,"y":1.3},{"s":"NO1 100 nM+DTG 10 µM","x":266,"y":1.5},{"s":"NO1 100 nM+DTG 10 µM","x":351,"y":1},{"s":"NO1 100 nM+DTG 10 µM","x":811,"y":0},{"s":"NO1 100 nM+DTG 10 µM","x":100000,"y":0}
]},
"mark": {"type": "line", "clip": true, "strokeWidth": 1.6},
"encoding": {
"x": {"field": "x", "type": "quantitative", "scale": {"type": "log", "domain": [1, 100000], "nice": false},
 "axis": {"title": "Fluorescence", "values": [1,2,3,4,5,6,7,8,9,10,20,30,40,50,60,70,80,90,100,200,300,400,500,600,700,800,900,1000,2000,3000,4000,5000,6000,7000,8000,9000,10000,20000,30000,40000,50000,60000,70000,80000,90000,100000],
 "labelExpr": "abs(log(datum.value)/LN10 - round(log(datum.value)/LN10)) < 0.01 ? '10' + ['⁰','¹','²','³','⁴','⁵'][round(log(datum.value)/LN10)] : ''",
 "labelFlush": false, "labelOverlap": false, "labelFont": "DejaVu Sans", "labelFontSize": 15, "labelColor": "#333333", "labelPadding": 14,
 "tickSize": {"condition": {"test": "abs(log(datum.value)/LN10 - round(log(datum.value)/LN10)) < 0.01", "value": -7}, "value": -4},
 "tickColor": "#666666", "domain": false, "grid": false,
 "titleFont": "Liberation Sans", "titleFontSize": 13, "titleFontWeight": "normal", "titleColor": "#222222", "titleX": 99, "titleY": 35, "titleAlign": "center", "titleBaseline": "middle"}},
"y": {"field": "y", "type": "quantitative", "scale": {"domain": [0, 156], "nice": false},
 "axis": {"title": ["Cell", "count"], "values": [10,20,30,40,50,60,70,80,90,100,110,120,130,140,150],
 "labelExpr": "indexof([10,40,70,100,140], datum.value) >= 0 ? datum.label : ''",
 "labelAngle": 270, "labelAlign": "center", "labelBaseline": "bottom", "labelOverlap": false, "labelFont": "Liberation Sans Narrow", "labelFontSize": 15, "labelColor": "#555555", "labelPadding": 0,
 "tickSize": 3, "tickColor": "#777777", "domain": false, "grid": false,
 "titleAngle": 270, "titleFont": "Liberation Sans", "titleFontSize": 12, "titleFontWeight": "normal", "titleColor": "#222222", "titleX": -53, "titleY": 169, "titleAlign": "center", "titleBaseline": "middle", "titleLineHeight": 13}},
"stroke": {"field": "s", "type": "nominal", "scale": {"domain": ["ctrl","NO1 100 nM","NO1 100 nM+DTG 10 µM"], "range": ["#1a1a1a","#ff0000","#66cc33"]}, "legend": null}
}
},
{
"width": 280, "height": 164,
"title": {"text": "BEAS-2B", "anchor": "start", "frame": "group", "baseline": "alphabetic", "offset": -16, "dx": 12, "fontSize": 25, "font": "Liberation Sans", "fontWeight": "normal", "color": "#000000"},
"data": {"values": [
{"s":"NO1 100 nM","x":1,"y":84},{"s":"NO1 100 nM","x":1.08,"y":3.4},{"s":"NO1 100 nM","x":1.2,"y":3.4},{"s":"NO1 100 nM","x":1.57,"y":1.8},{"s":"NO1 100 nM","x":2.38,"y":1.8},{"s":"NO1 100 nM","x":2.92,"y":4.9},{"s":"NO1 100 nM","x":4.12,"y":8},{"s":"NO1 100 nM","x":6.22,"y":11},{"s":"NO1 100 nM","x":8.18,"y":17},{"s":"NO1 100 nM","x":10,"y":21.6},{"s":"NO1 100 nM","x":12.4,"y":29},{"s":"NO1 100 nM","x":14.6,"y":33},{"s":"NO1 100 nM","x":17.4,"y":29},{"s":"NO1 100 nM","x":21.4,"y":44.5},{"s":"NO1 100 nM","x":24.6,"y":66},{"s":"NO1 100 nM","x":29,"y":81},{"s":"NO1 100 nM","x":34.6,"y":99},{"s":"NO1 100 nM","x":41.4,"y":113},{"s":"NO1 100 nM","x":47.5,"y":114.6},{"s":"NO1 100 nM","x":56,"y":107},{"s":"NO1 100 nM","x":66.1,"y":90},{"s":"NO1 100 nM","x":78.9,"y":69},{"s":"NO1 100 nM","x":90.6,"y":47.6},{"s":"NO1 100 nM","x":104,"y":32},{"s":"NO1 100 nM","x":119,"y":26},{"s":"NO1 100 nM","x":147,"y":23},{"s":"NO1 100 nM","x":180,"y":18.6},{"s":"NO1 100 nM","x":221,"y":14},{"s":"NO1 100 nM","x":272,"y":10.7},{"s":"NO1 100 nM","x":334,"y":10.7},{"s":"NO1 100 nM","x":411,"y":15},{"s":"NO1 100 nM","x":505,"y":16.8},{"s":"NO1 100 nM","x":620,"y":16.8},{"s":"NO1 100 nM","x":762,"y":13.7},{"s":"NO1 100 nM","x":936,"y":9},{"s":"NO1 100 nM","x":1151,"y":4.6},{"s":"NO1 100 nM","x":1514,"y":1.5},{"s":"NO1 100 nM","x":2624,"y":0.6},{"s":"NO1 100 nM","x":3013,"y":0},
{"s":"ctrl","x":1.1,"y":20},{"s":"ctrl","x":1.2,"y":17},{"s":"ctrl","x":1.37,"y":11},{"s":"ctrl","x":1.69,"y":17},{"s":"ctrl","x":2.07,"y":20},{"s":"ctrl","x":2.55,"y":32},{"s":"ctrl","x":3.13,"y":44.5},{"s":"ctrl","x":3.84,"y":56.7},{"s":"ctrl","x":4.72,"y":78},{"s":"ctrl","x":5.42,"y":93},{"s":"ctrl","x":6.22,"y":108.5},{"s":"ctrl","x":7.13,"y":116},{"s":"ctrl","x":8.18,"y":117},{"s":"ctrl","x":9.39,"y":118},{"s":"ctrl","x":10.8,"y":105.5},{"s":"ctrl","x":12.4,"y":84},{"s":"ctrl","x":14.2,"y":63},{"s":"ctrl","x":16.3,"y":41.5},{"s":"ctrl","x":18.7,"y":32},{"s":"ctrl","x":22.9,"y":27.7},{"s":"ctrl","x":28.2,"y":24.7},{"s":"ctrl","x":34.6,"y":23},{"s":"ctrl","x":42.6,"y":18.6},{"s":"ctrl","x":52.3,"y":14},{"s":"ctrl","x":64.2,"y":9.5},{"s":"ctrl","x":84.6,"y":6.4},{"s":"ctrl","x":111,"y":4.9},{"s":"ctrl","x":147,"y":3.4},{"s":"ctrl","x":193,"y":2.4},{"s":"ctrl","x":291,"y":1.2},{"s":"ctrl","x":440,"y":0},
{"s":"NO1 100 nM+DTG 10 µM","x":1,"y":160},{"s":"NO1 100 nM+DTG 10 µM","x":1.1,"y":25},{"s":"NO1 100 nM+DTG 10 µM","x":1.2,"y":20},{"s":"NO1 100 nM+DTG 10 µM","x":1.37,"y":26},{"s":"NO1 100 nM+DTG 10 µM","x":1.57,"y":35},{"s":"NO1 100 nM+DTG 10 µM","x":1.93,"y":35},{"s":"NO1 100 nM+DTG 10 µM","x":2.22,"y":40},{"s":"NO1 100 nM+DTG 10 µM","x":2.73,"y":60},{"s":"NO1 100 nM+DTG 10 µM","x":3.35,"y":72},{"s":"NO1 100 nM+DTG 10 µM","x":4.12,"y":87},{"s":"NO1 100 nM+DTG 10 µM","x":5.06,"y":107},{"s":"NO1 100 nM+DTG 10 µM","x":6.05,"y":115},{"s":"NO1 100 nM+DTG 10 µM","x":6.94,"y":113},{"s":"NO1 100 nM+DTG 10 µM","x":7.96,"y":99},{"s":"NO1 100 nM+DTG 10 µM","x":9.14,"y":81},{"s":"NO1 100 nM+DTG 10 µM","x":10.5,"y":63},{"s":"NO1 100 nM+DTG 10 µM","x":12,"y":44.5},{"s":"NO1 100 nM+DTG 10 µM","x":14.2,"y":32},{"s":"NO1 100 nM+DTG 10 µM","x":17.4,"y":24.7},{"s":"NO1 100 nM+DTG 10 µM","x":21.4,"y":23},{"s":"NO1 100 nM+DTG 10 µM","x":26.3,"y":21.6},{"s":"NO1 100 nM+DTG 10 µM","x":32.3,"y":21.6},{"s":"NO1 100 nM+DTG 10 µM","x":39.7,"y":17},{"s":"NO1 100 nM+DTG 10 µM","x":48.8,"y":12.5},{"s":"NO1 100 nM+DTG 10 µM","x":60,"y":7.9},{"s":"NO1 100 nM+DTG 10 µM","x":78.9,"y":4.9},{"s":"NO1 100 nM+DTG 10 µM","x":111,"y":3.4},{"s":"NO1 100 nM+DTG 10 µM","x":147,"y":2.4},{"s":"NO1 100 nM+DTG 10 µM","x":221,"y":0.6},{"s":"NO1 100 nM+DTG 10 µM","x":254,"y":0},{"s":"NO1 100 nM+DTG 10 µM","x":100000,"y":0}
]},
"encoding": {
"x": {"field": "x", "type": "quantitative", "scale": {"type": "log", "domain": [1, 100000], "nice": false},
 "axis": {"title": "Fluorescence", "values": [1,2,3,4,5,6,7,8,9,10,20,30,40,50,60,70,80,90,100,200,300,400,500,600,700,800,900,1000,2000,3000,4000,5000,6000,7000,8000,9000,10000,20000,30000,40000,50000,60000,70000,80000,90000,100000],
 "labelExpr": "abs(log(datum.value)/LN10 - round(log(datum.value)/LN10)) < 0.01 ? '10' + ['⁰','¹','²','³','⁴','⁵'][round(log(datum.value)/LN10)] : ''",
 "labelFlush": false, "labelOverlap": false, "labelFont": "DejaVu Sans", "labelFontSize": 15, "labelColor": "#333333", "labelPadding": 14,
 "tickSize": {"condition": {"test": "abs(log(datum.value)/LN10 - round(log(datum.value)/LN10)) < 0.01", "value": -7}, "value": -4},
 "tickColor": "#666666", "domain": false, "grid": false,
 "titleFont": "Liberation Sans", "titleFontSize": 13, "titleFontWeight": "normal", "titleColor": "#222222", "titleX": 96, "titleY": 33, "titleAlign": "center", "titleBaseline": "middle"}},
"y": {"field": "y", "type": "quantitative", "scale": {"domain": [0, 155], "nice": false},
 "axis": {"title": ["Cell", "count"], "values": [10,20,30,40,50,60,70,80,90,100,110,120,130,140,150],
 "labelExpr": "indexof([10,40,70,100,140], datum.value) >= 0 ? datum.label : ''",
 "labelAngle": 270, "labelAlign": "center", "labelBaseline": "bottom", "labelOverlap": false, "labelFont": "Liberation Sans Narrow", "labelFontSize": 15, "labelColor": "#555555", "labelPadding": 0,
 "tickSize": 3, "tickColor": "#777777", "domain": false, "grid": false,
 "titleAngle": 270, "titleFont": "Liberation Sans", "titleFontSize": 12, "titleFontWeight": "normal", "titleColor": "#222222", "titleX": -50, "titleY": 163, "titleAlign": "center", "titleBaseline": "middle", "titleLineHeight": 13}}
},
"layer": [
{
"mark": {"type": "line", "clip": true, "strokeWidth": 1.6},
"encoding": {
"stroke": {"field": "s", "type": "nominal", "scale": {"domain": ["NO1 100 nM+DTG 10 µM","NO1 100 nM","ctrl"], "range": ["#66cc33","#ff0000","#1a1a1a"]}, "legend": null}
}
},
{
"transform": [{"filter": "false"}],
"mark": {"type": "line"},
"encoding": {
"color": {"field": "s", "type": "nominal", "scale": {"domain": ["ctrl","NO1 100 nM","NO1 100 nM+DTG 10 µM"], "range": ["#000000","#ff0000","#00b050"]},
 "legend": {"orient": "none", "legendX": 296, "legendY": -6, "title": null, "symbolType": "stroke", "symbolSize": 324, "symbolStrokeWidth": 3, "labelFont": "Liberation Sans", "labelFontSize": 13, "labelLimit": 240, "labelColor": "#222222", "labelOffset": 8, "rowPadding": 1}}
}
}
]
}
]
}
